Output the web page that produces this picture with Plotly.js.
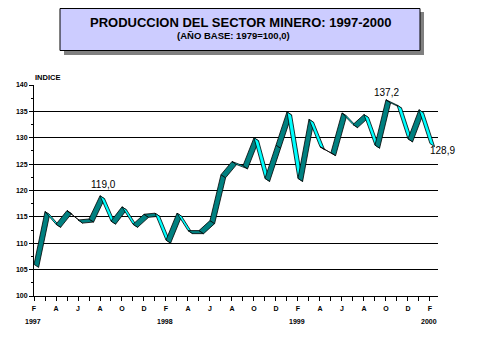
<!DOCTYPE html>
<html><head><meta charset="utf-8">
<script src="https://cdn.plot.ly/plotly-3.0.1.min.js"></script>
<style>html,body{margin:0;padding:0;background:#fff;} #chart{width:479px;height:359px;}</style>
</head><body><div id="chart"></div>
<script>
// ---- data ----
const monthLetters = ['F','M','A','M','J','J','A','S','O','N','D','E',
                      'F','M','A','M','J','J','A','S','O','N','D','E',
                      'F','M','A','M','J','J','A','S','O','N','D','E','F'];
const indexValues = [106.0,116.0,113.6,116.2,114.4,114.6,119.0,114.2,116.9,113.6,115.5,115.7,
                     110.6,115.7,112.4,112.4,114.3,123.0,125.5,124.7,130.0,122.3,128.6,134.9,
                     122.3,133.5,128.3,127.2,134.7,132.5,134.4,128.6,137.2,136.2,129.8,135.3,128.9];
const yearLabels = ['1997','1998','1999','2000'];
const yearIndex = [0,12,24,36];
const labelledIndex = [6,32,36];
const yTicks = [100,105,110,115,120,125,130,135,140];

// ---- style ----
const UP = '#008080', DOWN = '#00FFFF';
const DX = 0.42, DY = -0.58; // ribbon depth offset (months, index units)
const labelShift = [[3,11],[1,7],[13,-7]];

const xs = monthLetters.map((_, i) => i);
const traces = [];
for (let i = 0; i < indexValues.length - 1; i++) {
  const x0 = xs[i], x1 = xs[i+1], y0 = indexValues[i], y1 = indexValues[i+1];
  traces.push({
    type: 'scatter', mode: 'lines', fill: 'toself',
    x: [x0, x1, x1 + DX, x0 + DX, x0],
    y: [y0, y1, y1 + DY, y0 + DY, y0],
    fillcolor: y1 >= y0 ? UP : DOWN,
    line: {color: '#000000', width: 0.8},
    hoverinfo: 'skip', showlegend: false
  });
}

const W = 404, H = 211, L = 34, T = 85;
const px = v => (v - L) / W;
const py = v => (296 - v) / H;
const F = 'Arial, Liberation Sans';

const annotations = [];
labelledIndex.forEach((idx, k) => {
  annotations.push({
    x: xs[idx], y: indexValues[idx], xref: 'x', yref: 'y',
    xanchor: 'center', yanchor: 'middle',
    text: indexValues[idx].toFixed(1).replace('.', ','),
    showarrow: false, xshift: labelShift[k][0], yshift: labelShift[k][1],
    font: {family: F, size: 10, color: '#000'}
  });
});
yearLabels.forEach((t, k) => {
  annotations.push({
    x: yearIndex[k], y: py(321), xref: 'x', yref: 'paper', text: t, showarrow: false,
    xanchor: 'center', yanchor: 'middle', xshift: -1,
    font: {family: F, size: 7, color: '#000', weight: 'bold'}
  });
});
annotations.push({x: px(47), y: py(77.5), xref: 'paper', yref: 'paper', text: 'INDICE', showarrow: false,
  xanchor: 'center', yanchor: 'middle',
  font: {family: F, size: 7.5, color: '#000', weight: 'bold'}});
annotations.push({x: px(240), y: py(22.5), xref: 'paper', yref: 'paper',
  text: 'PRODUCCION DEL SECTOR MINERO: 1997-2000', showarrow: false,
  xanchor: 'center', yanchor: 'middle',
  font: {family: F, size: 13, color: '#000', weight: 'bold'}});
annotations.push({x: px(233), y: py(36), xref: 'paper', yref: 'paper',
  text: '(AÑO BASE: 1979=100,0)', showarrow: false,
  xanchor: 'center', yanchor: 'middle',
  font: {family: F, size: 9.5, color: '#000', weight: 'bold'}});

const shapes = [
  {type: 'rect', xref: 'paper', yref: 'paper', x0: px(64), x1: px(424), y0: py(55), y1: py(12),
   fillcolor: '#808080', line: {width: 0}},
  {type: 'rect', xref: 'paper', yref: 'paper', x0: px(60), x1: px(420), y0: py(50.5), y1: py(8.5),
   fillcolor: '#CCCCFF', line: {color: '#000', width: 1}}
];

const layout = {
  width: 479, height: 359,
  margin: {l: L, r: 479 - 438, t: T, b: 359 - 296, pad: 0},
  paper_bgcolor: '#fff', plot_bgcolor: '#fff',
  showlegend: false,
  xaxis: {
    range: [0, 36.73], tickmode: 'array', tickvals: xs,
    ticktext: monthLetters.map((m, i) => i % 2 === 0 ? m : ''),
    ticks: 'outside', ticklen: 4, tickcolor: '#000', tickwidth: 1, ticklabelstandoff: 2,
    showline: true, linecolor: '#000', linewidth: 1, showgrid: false, zeroline: false,
    tickfont: {family: F, size: 7, color: '#000', weight: 'bold'},
    fixedrange: true
  },
  yaxis: {
    range: [100, 140], tickmode: 'array', tickvals: yTicks, ticktext: yTicks.map(String),
    ticks: 'outside', ticklen: 4, tickcolor: '#000', tickwidth: 1,
    showline: true, linecolor: '#000', linewidth: 1,
    showgrid: true, gridcolor: '#000', gridwidth: 1, zeroline: false,
    minor: {tickmode: 'array', tickvals: [102.5,107.5,112.5,117.5,122.5,127.5,132.5,137.5],
            ticks: 'outside', ticklen: 2, tickcolor: '#000', showgrid: false},
    tickfont: {family: F, size: 7, color: '#000', weight: 'bold'},
    fixedrange: true
  },
  annotations: annotations,
  shapes: shapes
};

Plotly.newPlot('chart', traces, layout, {displayModeBar: false, staticPlot: true});
</script>
</body></html>
